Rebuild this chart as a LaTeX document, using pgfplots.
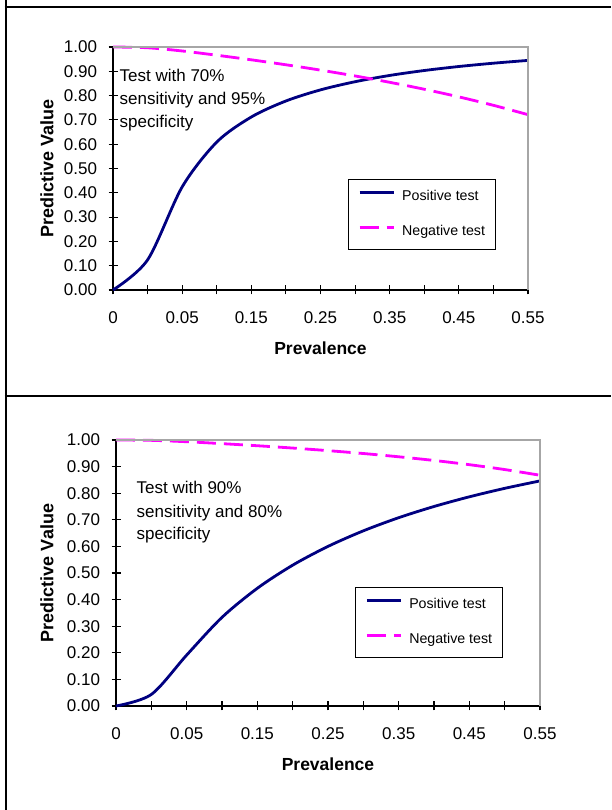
\documentclass[border=0pt]{standalone}
\usepackage{fontspec}
\setmainfont{Liberation Sans}
\usepackage{pgfplots}
\usepackage{pgfplotstable}
\pgfplotsset{compat=1.18}
\definecolor{navy}{HTML}{000080}
\definecolor{mag}{HTML}{FF00FF}
\definecolor{pagray}{HTML}{A6A6A6}

% x = category index: 0 -> 0, 1 -> 0.01, 2 -> 0.05, 3 -> 0.10, ..., 12 -> 0.55
\pgfplotstableread{
idx prev  pos    neg
0   0.00  0.0000 1.0000
1   0.01  0.1239 0.9968
2   0.05  0.4242 0.9836
3   0.10  0.6087 0.9661
4   0.15  0.7119 0.9472
5   0.20  0.7778 0.9268
6   0.25  0.8235 0.9048
7   0.30  0.8571 0.8808
8   0.35  0.8829 0.8547
9   0.40  0.9032 0.8261
10  0.45  0.9197 0.7947
11  0.50  0.9333 0.7600
12  0.55  0.9448 0.7215
}\topdata
\pgfplotstableread{
idx prev  pos    neg
0   0.00  0.0000 1.0000
1   0.01  0.0435 0.9987
2   0.05  0.1915 0.9935
3   0.10  0.3333 0.9863
4   0.15  0.4426 0.9784
5   0.20  0.5294 0.9697
6   0.25  0.6000 0.9600
7   0.30  0.6585 0.9492
8   0.35  0.7079 0.9369
9   0.40  0.7500 0.9231
10  0.45  0.7864 0.9072
11  0.50  0.8182 0.8889
12  0.55  0.8462 0.8675
}\botdata

\pgfplotsset{
  pvstyle/.style={
    scale only axis,
    xmin=0, xmax=12, ymin=0, ymax=1,
    axis x line*=bottom, axis y line*=left,
    axis line style={black, line width=1.2pt, -},
    xtick={0,...,12},
    xticklabels={0,,0.05,,0.15,,0.25,,0.35,,0.45,,0.55},
    ytick={0,0.1,0.2,0.3,0.4,0.5,0.6,0.7,0.8,0.9,1.0},
    yticklabel style={xshift=-8pt, /pgf/number format/.cd, fixed, fixed zerofill, precision=2},
    /pgf/number format/assume math mode=true,
    tick align=center,
    major tick length=9pt,
    tick style={black, line width=1.1pt},
    ticklabel style={font=\fontsize{17}{17}\selectfont},
    xticklabel style={yshift=-14pt},
    clip=false,
    every axis x label/.style={font=\bfseries\fontsize{17.5}{17.5}\selectfont, anchor=center},
    every axis y label/.style={font=\bfseries\fontsize{18}{18}\selectfont, anchor=center, rotate=90},
    xlabel={Prevalence}, ylabel={Predictive Value},
    legend cell align=left,
    legend style={draw=black, line width=0.9pt, fill=white,
      font=\fontsize{14.2}{14.2}\selectfont,
      anchor=north west, inner xsep=10pt, inner ysep=10.5pt, row sep=21pt,
      nodes={inner sep=0pt, text height=10.5pt, text depth=3.5pt},
      /tikz/every odd column/.style={column sep=7pt}},
    legend image code/.code={\draw[##1] (0pt,4.5pt) -- (34pt,4.5pt);},
    after end axis/.code={\draw[pagray, line width=1.3pt] (rel axis cs:0,1) -- (rel axis cs:1,1) -- (rel axis cs:1,0);},
  },
  posline/.style={navy, line width=2.8pt, smooth, tension=0.5, no markers},
  negline/.style={mag, line width=2.8pt, smooth, tension=0.5, no markers, dash pattern=on 19pt off 8pt},
}

\begin{document}
\begin{tikzpicture}
\path[use as bounding box] (0pt,0pt) rectangle (611pt,810pt);
% table borders
\draw[line width=2pt] (5.7pt,0pt) -- (5.7pt,810pt);
\draw[line width=2pt] (4.7pt,803.3pt) -- (611pt,803.3pt);
\draw[line width=2pt] (4.7pt,414.3pt) -- (611pt,414.3pt);

\begin{axis}[pvstyle, at={(113pt,520pt)}, anchor=south west,
  width=415pt, height=243pt,
  xlabel style={at={(axis description cs:0.5,-0.2387)}},
  ylabel style={at={(axis description cs:-0.159,0.5)}},
  legend style={at={(rel axis cs:0.566,0.457)}}]
\addplot[posline] table[x=idx, y=pos] {\topdata};
\addlegendentry{Positive test}
\addplot[negline] table[x=idx, y=neg] {\topdata};
\addlegendentry{Negative test}
\end{axis}
\node[anchor=base west, font=\fontsize{17}{17}\selectfont, inner sep=0pt] at (119.5pt,728.3pt) {Test with 70\%};
\node[anchor=base west, font=\fontsize{17}{17}\selectfont, inner sep=0pt] at (119.5pt,705pt) {sensitivity and 95\%};
\node[anchor=base west, font=\fontsize{17}{17}\selectfont, inner sep=0pt] at (119.5pt,682.5pt) {specificity};

\begin{axis}[pvstyle, at={(116pt,104pt)}, anchor=south west,
  width=424pt, height=266pt,
  xlabel style={at={(axis description cs:0.5,-0.218)}},
  ylabel style={at={(axis description cs:-0.163,0.5)}},
  legend style={at={(rel axis cs:0.5637,0.446)}}]
\addplot[posline] table[x=idx, y=pos] {\botdata};
\addlegendentry{Positive test}
\addplot[negline] table[x=idx, y=neg] {\botdata};
\addlegendentry{Negative test}
\end{axis}
\node[anchor=base west, font=\fontsize{17}{17}\selectfont, inner sep=0pt] at (136.5pt,316pt) {Test with 90\%};
\node[anchor=base west, font=\fontsize{17}{17}\selectfont, inner sep=0pt] at (136.5pt,292.7pt) {sensitivity and 80\%};
\node[anchor=base west, font=\fontsize{17}{17}\selectfont, inner sep=0pt] at (136.5pt,270pt) {specificity};
\end{tikzpicture}
\end{document}
